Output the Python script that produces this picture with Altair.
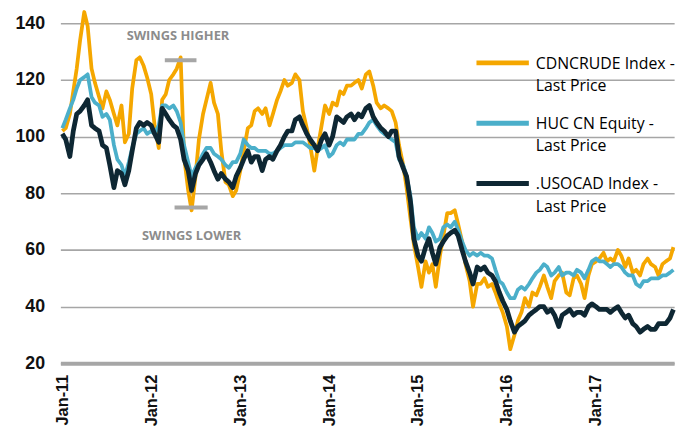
import altair as alt
import pandas as pd

# semi-monthly observation dates, Jan 2011 - Nov 2017
dates = [f"{2011 + m // 12}-{m % 12 + 1:02d}-{d:02d}" for m in range(83) for d in (1, 15)]

cdncrude = [
    102, 103, 108, 116, 124, 134, 144, 139, 124, 119,
    114, 110, 116, 113, 108, 104, 111, 98, 101, 117,
    127, 128, 125, 121, 115, 104, 96, 113, 115, 120,
    122, 124, 128, 93, 81, 74, 86, 99, 108, 113,
    119, 112, 108, 95, 84, 83, 79, 81, 88, 95,
    103, 104, 109, 110, 108, 110, 104, 108, 113, 116,
    120, 118, 119, 122, 120, 109, 103, 97, 88, 96,
    104, 111, 108, 112, 111, 116, 115, 118, 118, 119,
    120, 117, 122, 123, 118, 112, 110, 111, 110, 109,
    105, 97, 90, 82, 71, 62, 54, 47, 56, 52,
    55, 47, 58, 65, 73, 73, 74, 69, 63, 55,
    49, 40, 48, 48, 50, 47, 48, 45, 41, 38,
    33, 25, 30, 35, 38, 43, 40, 45, 44, 47,
    51, 47, 43, 49, 51, 52, 45, 44, 50, 51,
    48, 43, 51, 55, 56, 57, 59, 56, 57, 56,
    60, 58, 54, 57, 52, 53, 51, 55, 57, 55,
    54, 51, 55, 56, 57, 61,
]

huc = [
    103, 106, 110, 113, 117, 120, 121, 122, 114, 112,
    111, 107, 108, 106, 97, 92, 90, 86, 91, 96,
    101, 102, 103, 101, 102, 101, 104, 111, 111, 110,
    111, 109, 105, 97, 91, 86, 89, 91, 94, 96,
    96, 94, 93, 92, 90, 89, 91, 91, 94, 99,
    97, 96, 96, 95, 95, 95, 94, 94, 95, 96,
    97, 97, 97, 98, 98, 98, 97, 96, 96, 95,
    96, 97, 93, 94, 97, 98, 97, 99, 99, 99,
    101, 101, 103, 105, 106, 104, 102, 101, 100, 99,
    98, 92, 90, 86, 79, 68, 64, 66, 64, 68,
    66, 63, 64, 68, 69, 68, 70, 67, 63, 60,
    58, 59, 58, 59, 58, 58, 57, 53, 49, 48,
    45, 43, 43, 46, 47, 46, 48, 50, 52, 53,
    55, 54, 51, 52, 54, 51, 52, 52, 51, 53,
    52, 50, 53, 56, 57, 56, 56, 55, 54, 55,
    55, 54, 52, 51, 51, 48, 47, 49, 49, 50,
    50, 50, 51, 51, 52, 53,
]

usocad = [
    101, 99, 93, 102, 108, 109, 111, 113, 104, 103,
    102, 97, 96, 90, 82, 88, 87, 83, 88, 95,
    103, 105, 104, 105, 104, 101, 98, 110, 108, 106,
    104, 103, 99, 92, 88, 81, 87, 90, 92, 94,
    91, 88, 85, 87, 85, 84, 82, 86, 89, 92,
    95, 91, 93, 93, 88, 92, 93, 92, 95, 97,
    100, 102, 102, 106, 107, 104, 101, 99, 97, 95,
    99, 101, 97, 100, 107, 106, 105, 107, 108, 106,
    108, 107, 110, 111, 107, 105, 103, 102, 100, 102,
    102, 93, 89, 86, 77, 64, 58, 56, 61, 64,
    59, 55, 61, 63, 65, 66, 67, 65, 60, 56,
    52, 48, 54, 53, 54, 52, 51, 49, 45, 42,
    39, 35, 31, 33, 34, 35, 37, 38, 39, 40,
    40, 38, 39, 37, 33, 37, 38, 39, 37, 38,
    38, 37, 40, 41, 40, 39, 39, 39, 38, 39,
    40, 38, 36, 37, 34, 33, 31, 32, 33, 32,
    32, 34, 34, 34, 36, 39,
]

series_names = [
    "CDNCRUDE Index - Last Price",
    "HUC CN Equity - Last Price",
    ".USOCAD Index - Last Price",
]
legend_lines = [
    "CDNCRUDE Index -\nLast Price",
    "HUC CN Equity -\nLast Price",
    ".USOCAD Index -\nLast Price",
]
colors = ["#F5A700", "#4BAFCA", "#0E2733"]
widths = [3.8, 3.8, 4.8]

# annotation bars and labels
bar_start = ["2012-02-26", "2012-04-06"]
bar_end = ["2012-07-05", "2012-08-20"]
bar_value = [127, 75]
note_date = ["2012-04-20", "2012-06-15"]
note_value = [135.5, 65]
note_text = ["SWINGS HIGHER", "SWINGS LOWER"]

rows = []
for name, vals in zip(series_names, [cdncrude, huc, usocad]):
    for d, v in zip(dates, vals):
        rows.append({"date": d, "value": v, "series": name})
df = pd.DataFrame(rows)

bars_df = pd.DataFrame({"start": bar_start, "end": bar_end, "value": bar_value})
notes_df = pd.DataFrame({"date": note_date, "value": note_value, "text": note_text})
legend_df = pd.DataFrame({"series": series_names, "label": legend_lines})

xscale = alt.Scale(domain=["2010-12-24", "2017-11-18"])
yscale = alt.Scale(domain=[20, 140], nice=False, zero=False)

xaxis = alt.Axis(
    title=None, format="%b-%y", tickCount={"interval": "year", "step": 1},
    labelAngle=270, labelFont="Liberation Sans", labelFontWeight="bold",
    labelFontSize=16.5, labelColor="#111111", labelPadding=11, ticks=False,
    grid=False, domain=True, domainColor="#A6A6A6", domainWidth=4,
)
yaxis = alt.Axis(
    title=None, values=[20, 40, 60, 80, 100, 120, 140], labelFont="Liberation Sans",
    labelFontWeight="bold", labelFontSize=18, labelColor="#111111", labelPadding=16,
    ticks=False, domain=False, grid=True, gridColor="#A6A6A6", gridWidth=1.6,
)

layers = []
for name, col, w in zip(series_names, colors, widths):
    layers.append(
        alt.Chart(df)
        .transform_filter(alt.datum.series == name)
        .mark_line(strokeWidth=w, strokeJoin="round", color=col)
        .encode(
            x=alt.X("date:T", scale=xscale, axis=xaxis),
            y=alt.Y("value:Q", scale=yscale, axis=yaxis),
        )
    )

bars = alt.Chart(bars_df).mark_rule(color="#A6A6A6", strokeWidth=4).encode(
    x=alt.X("start:T", scale=xscale, axis=xaxis),
    x2="end:T",
    y=alt.Y("value:Q", scale=yscale, axis=yaxis),
)
notes = alt.Chart(notes_df).mark_text(
    font="Open Sans", fontWeight="bold", fontSize=13, color="#8C8C8C", align="center", baseline="middle"
).encode(
    x=alt.X("date:T", scale=xscale, axis=xaxis),
    y=alt.Y("value:Q", scale=yscale, axis=yaxis),
    text="text:N",
)

legend_layers = []
for k, (name, col) in enumerate(zip(series_names, colors)):
    ysym = 40 + 61 * k
    legend_layers.append(
        alt.Chart(legend_df).transform_filter(alt.datum.series == name)
        .mark_rule(color=col, strokeWidth=5)
        .encode(x=alt.value(421), x2=alt.value(474), y=alt.value(ysym))
    )
    legend_layers.append(
        alt.Chart(legend_df).transform_filter(alt.datum.series == name)
        .mark_text(font="Open Sans", fontSize=16, color="#000000", align="left",
                   baseline="top", lineBreak="\n", lineHeight=22.5)
        .encode(x=alt.value(481), y=alt.value(ysym - 7), text="label:N")
    )

chart = alt.layer(*layers, bars, notes, *legend_layers).properties(
    width=621, height=344,
    autosize=alt.AutoSizeParams(type="none"),
    padding={"left": 53, "top": 13, "right": 12, "bottom": 70},
).configure_view(stroke=None)

chart.save("out.html", embed_options={"renderer": "svg", "actions": False})
